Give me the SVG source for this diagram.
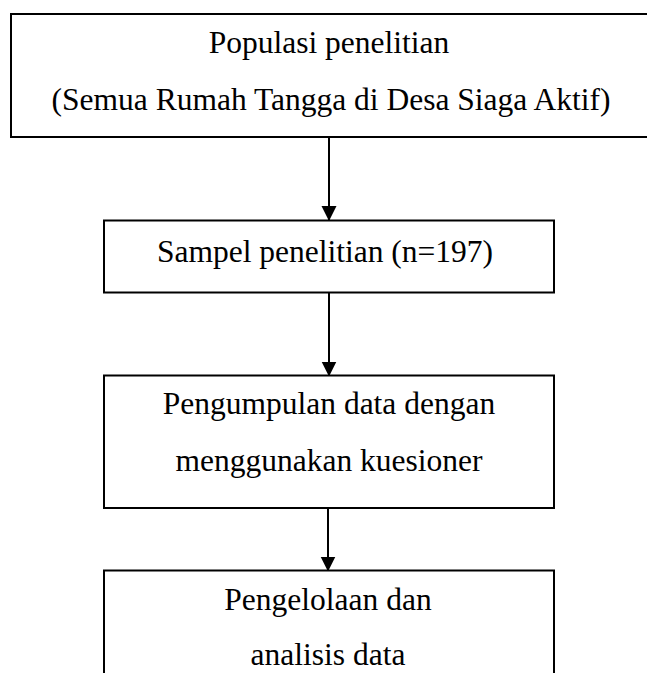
<svg xmlns="http://www.w3.org/2000/svg" width="647" height="673" viewBox="0 0 647 673">
<style>
.box{fill:#fff;stroke:#000;stroke-width:2}
.t{font-family:"Liberation Serif","Times New Roman",serif;font-size:31.5px;fill:#000;text-anchor:middle}
.c{stroke:#000;stroke-width:2;fill:none}
</style>
<defs>
<marker id="ah" markerUnits="userSpaceOnUse" markerWidth="16" markerHeight="16" refX="14" refY="7.5" orient="auto">
<path d="M0,0 L15,7.5 L0,15 Z" fill="#000"/>
</marker>
</defs>
<rect width="647" height="673" fill="#fff"/>
<g id="connectors">
<line class="c" x1="329" y1="138" x2="329" y2="220" marker-end="url(#ah)"/>
<line class="c" x1="329" y1="293" x2="329" y2="375.5" marker-end="url(#ah)"/>
<line class="c" x1="328" y1="508" x2="328" y2="570.5" marker-end="url(#ah)"/>
</g>
<g id="node1">
<rect class="box" x="11" y="14" width="640" height="123"/>
<text class="t" x="329" y="53">Populasi penelitian</text>
<text class="t" x="331" y="110">(Semua Rumah Tangga di Desa Siaga Aktif)</text>
</g>
<g id="node2">
<rect class="box" x="104" y="220.5" width="450" height="72"/>
<text class="t" x="325" y="262">Sampel penelitian (n=197)</text>
</g>
<g id="node3">
<rect class="box" x="104" y="375.5" width="450" height="132.5"/>
<text class="t" x="329" y="414">Pengumpulan data dengan</text>
<text class="t" x="329" y="471">menggunakan kuesioner</text>
</g>
<g id="node4">
<rect class="box" x="104" y="570.5" width="450" height="130"/>
<text class="t" x="328" y="610">Pengelolaan dan</text>
<text class="t" x="328" y="665">analisis data</text>
</g>
</svg>
